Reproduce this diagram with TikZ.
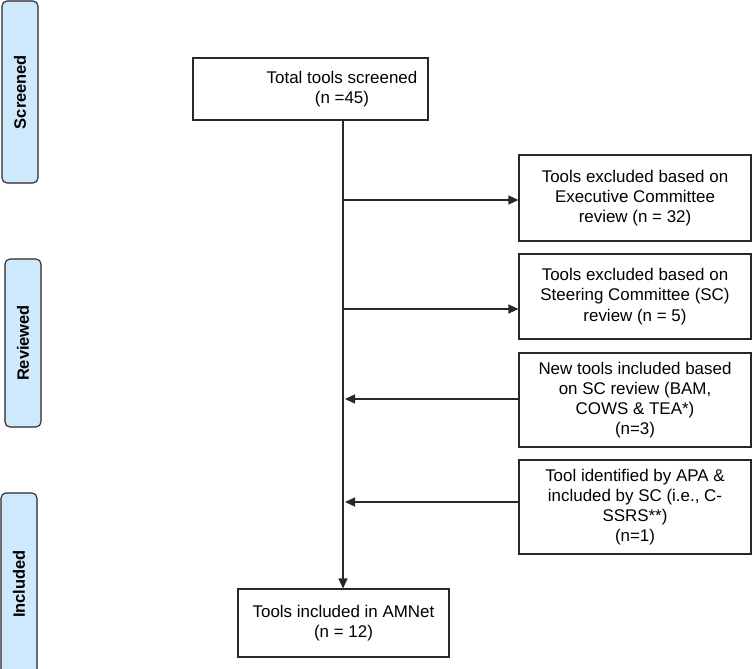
\documentclass[tikz,border=0pt]{standalone}
\usepackage{fontspec}
\setmainfont{Liberation Sans}
\usetikzlibrary{arrows.meta}
\definecolor{sidefill}{RGB}{206,232,252}
\definecolor{lineclr}{RGB}{40,40,40}
\tikzset{
  flowbox/.style={draw=lineclr, line width=1.1bp, fill=white, align=center,
    font=\fontsize{17}{20.2}\selectfont, inner sep=0pt},
  flowtext/.style={align=center, font=\fontsize{17}{20.2}\selectfont, inner sep=0pt},
  sidebox/.style={draw=lineclr, line width=1.1bp, fill=sidefill, rounded corners=5bp,
    rotate=90, font=\fontsize{16.5}{20}\selectfont\bfseries, inner sep=0pt,
    minimum height=36bp},
  arr/.style={draw=lineclr, line width=1.3bp, -{Triangle[length=10bp,width=9bp]}},
}
\begin{document}
\begin{tikzpicture}[x=1bp,y=-1bp]
\useasboundingbox (0,0) rectangle (754,669);
\clip (0,0) rectangle (754,669);
% side labels
\node[sidebox, minimum width=182bp] (scr) at (20,92) {Screened};
\node[sidebox, minimum width=168bp] (rev) at (23,343) {Reviewed};
\node[sidebox, minimum width=182bp] (inc) at (19,584) {Included};
% boxes
\node[flowbox, minimum width=235bp, minimum height=62bp] (tot) at (310.5,89) {};
\node[flowtext] (tottext) at (342,89) {Total tools screened\\(n =45)};
\node[flowbox, minimum width=232bp, minimum height=86bp] (ex1) at (635,198)
  {Tools excluded based on\\Executive Committee\\review (n = 32)};
\node[flowbox, minimum width=232bp, minimum height=85bp] (ex2) at (635,296.5)
  {Tools excluded based on\\Steering Committee (SC)\\review (n = 5)};
\node[flowbox, minimum width=232bp, minimum height=94bp] (new) at (635,400)
  {New tools included based\\on SC review (BAM,\\COWS \& TEA*)\\(n=3)};
\node[flowbox, minimum width=232bp, minimum height=94bp] (apa) at (635,507)
  {Tool identified by APA \&\\included by SC (i.e., C-\\SSRS**)\\(n=1)};
\node[flowbox, minimum width=211bp, minimum height=68bp] (fin) at (343.5,623)
  {Tools included in AMNet\\(n = 12)};
% connectors
\coordinate (b1) at (343,200);
\coordinate (b2) at (343,309);
\coordinate (c3) at (519,399);
\coordinate (c4) at (519,502);
\draw[arr] (b1 |- tot.south) -- (b1 |- fin.north);
\draw[arr] (b1) -- (b1 -| ex1.west);
\draw[arr] (b2) -- (b2 -| ex2.west);
\draw[arr, shorten >=2bp] (c3) -- (c3 -| b1);
\draw[arr, shorten >=2bp] (c4) -- (c4 -| b1);
\end{tikzpicture}
\end{document}
